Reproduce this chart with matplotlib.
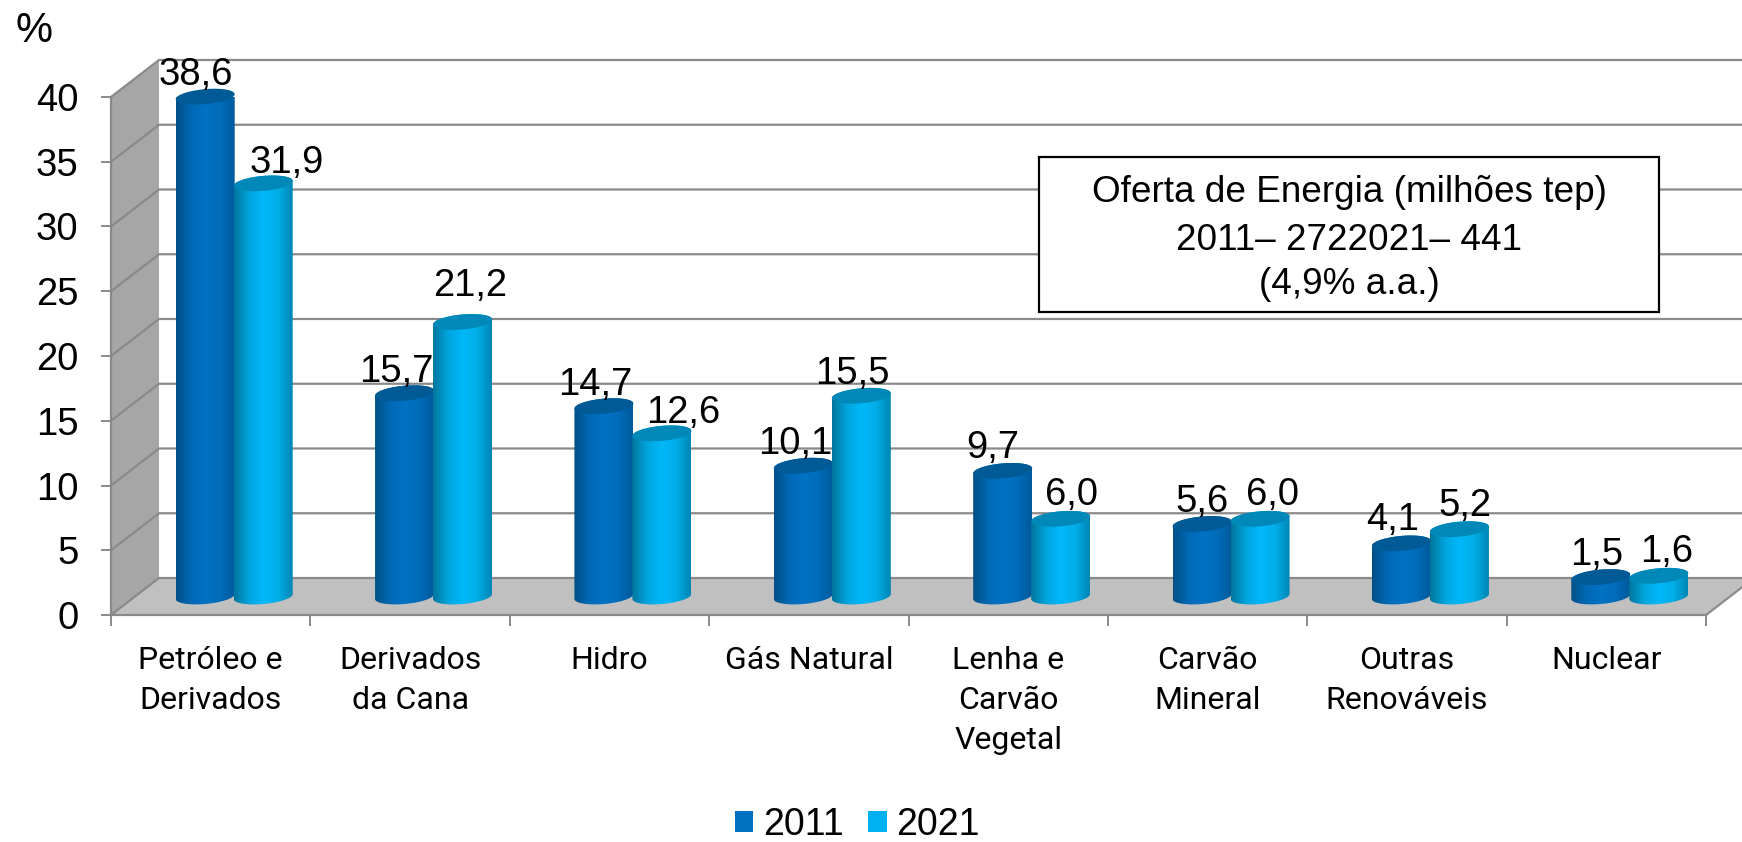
import numpy as np
import matplotlib.pyplot as plt
from matplotlib.colors import LinearSegmentedColormap
from matplotlib.patches import Patch, PathPatch, Polygon, Rectangle
from matplotlib.path import Path

categories = ["Petróleo e\nDerivados", "Derivados\nda Cana", "Hidro", "Gás Natural",
              "Lenha e\nCarvão\nVegetal", "Carvão\nMineral", "Outras\nRenováveis", "Nuclear"]
values_2011 = [38.6, 15.7, 14.7, 10.1, 9.7, 5.6, 4.1, 1.5]
values_2021 = [31.9, 21.2, 12.6, 15.5, 6.0, 6.0, 5.2, 1.6]
y_ticks = [0, 5, 10, 15, 20, 25, 30, 35, 40]
box_lines = ["Oferta de Energia (milhões tep)", "2011\u2013 2722021\u2013 441", "(4,9% a.a.)"]

W, H = 1742, 842
plt.rcParams['font.family'] = ['Liberation Sans', 'DejaVu Sans']
FS = 27.5
GRAY = "#8a8a8a"

fig = plt.figure(figsize=(W / 100, H / 100), dpi=100)
ax = fig.add_axes([111 / W, 1 - 615 / H, (1706 - 111) / W, (615 - 97) / H])
ax.set_xlim(0, 8)
ax.set_ylim(0, 40)

# pixels to data units
ux = 8 / (1706 - 111)
uy = 40 / (615 - 97)
depth_x = 48 * ux
depth_y = 37 * uy


def px(x, y):
    return (x - 111) * ux, (615 - y) * uy


# walls and floor
ax.add_patch(Polygon([(0, 0), (depth_x, depth_y), (depth_x, 40 + depth_y), (0, 40)],
                     fc="#a6a6a6", ec="none", clip_on=False, zorder=1))
ax.add_patch(Polygon([(0, 0), (depth_x, depth_y), (8 + depth_x, depth_y), (8, 0)],
                     fc="#c0c0c0", ec="none", clip_on=False, zorder=1))
for v in y_ticks:
    ax.plot([0, depth_x, 8 + depth_x], [v, v + depth_y, v + depth_y], color=GRAY, lw=1.6,
            clip_on=False, zorder=2, solid_joinstyle="miter")
ax.plot([8, 8 + depth_x], [0, depth_y], color=GRAY, lw=1.6, clip_on=False, zorder=2)

# cylinders
cmap_2011 = LinearSegmentedColormap.from_list("c2011", ["#004f86", "#0068b4", "#0072c4", "#006cba", "#005a9c"])
cmap_2021 = LinearSegmentedColormap.from_list("c2021", ["#00759c", "#00a4dc", "#00b8fa", "#00aee8", "#0086b4"])
cap_2011 = "#005a96"
cap_2021 = "#0088b8"
half_w = 29.5
half_h = 7.5
tilt = 2.5
lower = np.linspace(np.pi, 2 * np.pi, 40)
upper = np.linspace(0, np.pi, 40)


def ring(t, cx, base, lift):
    xs = cx + half_w * ux * np.cos(t)
    ys = base + lift + (half_h * np.sin(t) + tilt * np.cos(t)) * uy
    return np.column_stack([xs, ys])


def cylinder(center, value, cmap, cap, z):
    base = depth_y / 2
    outline = np.vstack([ring(lower, center, base, 0), ring(upper, center, base, value)])
    body = PathPatch(Path(np.vstack([outline, outline[0]])), fc="none", ec="none",
                     transform=ax.transData)
    ax.add_patch(body)
    im = ax.imshow(np.linspace(0, 1, 256)[None, :], cmap=cmap, aspect="auto", interpolation="bilinear",
                   extent=[center - half_w * ux, center + half_w * ux, base - 2, base + value + 2],
                   zorder=z)
    im.set_clip_path(body)
    top = np.vstack([ring(upper, center, base, value), ring(lower, center, base, value)])
    ax.add_patch(Polygon(top, fc=cap, ec="none", clip_on=False, zorder=z + 0.1))


# label offsets from the top of each bar, in pixels
offs_2011 = [(-9, 22), (-8, 21), (-9, 21), (-8, 22), (-10, 23), (0, 22), (-9, 23), (-4, 22)]
offs_2021 = [(24, 20), (8, 36), (21, 20), (-9, 22), (11, 24), (12, 24), (5, 23), (8, 24)]

for i, (a, b) in enumerate(zip(values_2011, values_2021)):
    c = i + 0.5 + depth_x / 2
    c1 = c - 29.5 * ux
    c2 = c + 28.5 * ux
    cylinder(c1, a, cmap_2011, cap_2011, 3 + i * 0.5)
    cylinder(c2, b, cmap_2021, cap_2021, 3.2 + i * 0.5)
    for cx, v, off in ((c1, a, offs_2011[i]), (c2, b, offs_2021[i])):
        ax.annotate(f"{v:.1f}".replace(".", ","), (cx, v + depth_y / 2),
                    xytext=(off[0] * 0.72, off[1] * 0.72), textcoords="offset points",
                    ha="center", va="center", fontsize=FS, color="black", zorder=10, annotation_clip=False)

# axes
ax.set_xlim(0, 8)
ax.set_ylim(0, 40)
ax.patch.set_visible(False)
for s in ("top", "right"):
    ax.spines[s].set_visible(False)
for s in ("left", "bottom"):
    ax.spines[s].set_color(GRAY)
    ax.spines[s].set_linewidth(1.6)
    ax.spines[s].set_zorder(2)
ax.set_yticks(y_ticks)
ax.set_yticklabels([str(v) for v in y_ticks], fontsize=FS)
ax.tick_params(axis="y", length=7.5, width=1.4, color=GRAY, pad=16)
ax.set_xticks(range(9))
ax.set_xticklabels([])
ax.tick_params(axis="x", which="major", length=8, width=1.4, color=GRAY)
ax.set_xticks(np.arange(len(categories)) + 0.5, minor=True)
ax.set_xticklabels(categories, minor=True, fontsize=23, family=['Roboto', 'Liberation Sans'],
                   linespacing=1.48)
ax.tick_params(axis="x", which="minor", length=0, pad=22)

fig.text(34 / W, 1 - 42 / H, "%", fontsize=30, ha="center", va="baseline")

# text box
x0, y0 = px(1039, 312)
x1, y1 = px(1659, 157)
ax.add_patch(Rectangle((x0, y0), x1 - x0, y1 - y0, fc="white", ec="black", lw=1.6, zorder=8))
for line, y_px in zip(box_lines, (193, 240, 285)):
    lx, ly = px(1349, y_px)
    ax.text(lx, ly, line, fontsize=26.6, ha="center", va="center", zorder=9)

handles = [Patch(fc="#0070c0", label="2011"), Patch(fc="#00b0f0", label="2021")]
fig.legend(handles=handles, loc="center", bbox_to_anchor=(857 / W, 1 - 825 / H), ncol=2, frameon=False,
           fontsize=27, handlelength=0.5, handleheight=0.5, handletextpad=0.25, columnspacing=0.65,
           borderpad=0, borderaxespad=0)

plt.savefig("out.png", dpi=100)
